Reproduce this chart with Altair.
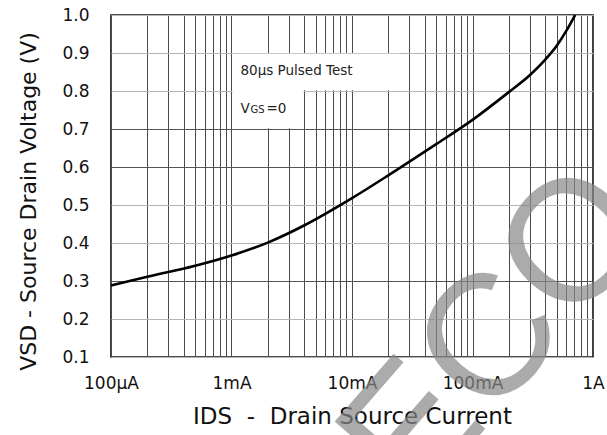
import altair as alt
import pandas as pd

# ---- data ----
current_a = [1e-4, 2e-4, 5e-4, 1e-3, 2e-3, 4e-3, 1e-2, 2e-2, 3e-2, 5e-2,
             0.1, 0.2, 0.3, 0.4, 0.5, 0.6, 0.71]
vsd_v = [0.288, 0.311, 0.340, 0.367, 0.401, 0.446, 0.518, 0.578, 0.614, 0.660,
         0.724, 0.797, 0.842, 0.882, 0.919, 0.958, 1.0]

decade_values = [1e-4, 1e-3, 1e-2, 1e-1, 1.0]
decade_labels = ["100µA", "1mA", "10mA", "100mA", "1A"]
minor_multipliers = [1, 2, 3, 4, 5, 6, 7, 8, 9]
y_ticks = [0.1, 0.2, 0.3, 0.4, 0.5, 0.6, 0.7, 0.8, 0.9, 1.0]
dark_h_grid = [0.3, 0.6, 0.7]

note_line1 = "80µs Pulsed Test"
note_v = "V"
note_gs = "GS"
note_eq = "=0"
box_x0 = [0.00102, 0.00102]
box_x1 = [0.025, 0.00395]
box_y0 = [0.802, 0.702]
box_y1 = [0.898, 0.806]
watermark_text = "ECO"

NBSP = "\u00a0"
x_title = f"IDS{NBSP}{NBSP}-{NBSP}{NBSP}Drain Source Current"
y_title = "VSD - Source Drain Voltage (V)"

FONT = "DejaVu Sans"

# ---- derived ----
x_grid_values = [round(m * d, 10) for d in decade_values[:-1] for m in minor_multipliers] + [decade_values[-1]]
label_expr = "''"
for v, l in reversed(list(zip(decade_values, decade_labels))):
    label_expr = f"datum.value == {v} ? '{l}' : ({label_expr})"

xscale = alt.Scale(type="log", domain=[decade_values[0], decade_values[-1]], nice=False)
yscale = alt.Scale(domain=[y_ticks[0], y_ticks[-1]], nice=False, zero=False)

xaxis = alt.Axis(values=x_grid_values, labelExpr=label_expr, title=x_title,
                 labelFlush=False, labelOverlap=False, ticks=False, tickSize=0,
                 domain=False, labelPadding=18, titleY=48,
                 gridColor="#4a4a4a", gridWidth=1, gridOpacity=1,
                 labelFontSize=17, titleFontSize=23)
yaxis = alt.Axis(values=y_ticks, format=".1f", title=y_title,
                 ticks=False, tickSize=0, domain=False, labelPadding=22,
                 titleX=-71, titleY=186, labelOverlap=False,
                 gridColor={"condition": {"test": "indexof(" + str(dark_h_grid) + ", datum.value) >= 0",
                                          "value": "#555555"},
                            "value": "#b5b5b5"},
                 gridWidth=1, gridOpacity=1,
                 labelFontSize=17, titleFontSize=22)

curve_df = pd.DataFrame({"I": current_a, "V": vsd_v})
box_df = pd.DataFrame({"x0": box_x0, "x1": box_x1, "y0": box_y0, "y1": box_y1})

boxes = alt.Chart(box_df).mark_rect(color="white").encode(
    x=alt.X("x0:Q", scale=xscale, axis=xaxis),
    x2="x1:Q",
    y=alt.Y("y0:Q", scale=yscale, axis=yaxis),
    y2="y1:Q",
)

curve = alt.Chart(curve_df).mark_line(color="black", strokeWidth=2.6, interpolate="monotone").encode(
    x=alt.X("I:Q", scale=xscale, axis=xaxis),
    y=alt.Y("V:Q", scale=yscale, axis=yaxis),
)


def note(text, yv, dx, size):
    df = pd.DataFrame({"x": [decade_values[1]], "y": [yv], "t": [text]})
    return alt.Chart(df).mark_text(align="left", baseline="alphabetic", dx=dx,
                                   font=FONT, fontSize=size, color="#222").encode(
        x=alt.X("x:Q", scale=xscale, axis=xaxis),
        y=alt.Y("y:Q", scale=yscale, axis=yaxis),
        text="t:N",
    )


n1 = note(note_line1, 0.842, 9, 13.5)
n2 = note(note_v, 0.743, 9, 13.5)
n3 = note(note_gs, 0.743, 19, 10)
n4 = note(note_eq, 0.743, 35, 13.5)

wm = alt.Chart(pd.DataFrame({"t": [watermark_text]})).mark_text(
    angle=311, fontSize=172, font="Liberation Sans", color="#888888", opacity=0.7,
    align="center", baseline="alphabetic").encode(
    text="t:N", x=alt.value(426), y=alt.value(354))

chart = alt.layer(boxes, curve, n1, n2, n3, n4, wm).properties(
    width=482, height=342,
    background="white",
    autosize=alt.AutoSizeParams(type="none"),
    padding={"left": 111, "top": 15, "right": 14, "bottom": 78},
).configure_view(stroke="#111111", strokeWidth=1.6).configure_axis(
    labelFont=FONT, titleFont=FONT, titleFontWeight="normal",
    labelColor="#111111", titleColor="#111111",
)

chart.save("out.html", embed_options={"renderer": "svg", "actions": False})
